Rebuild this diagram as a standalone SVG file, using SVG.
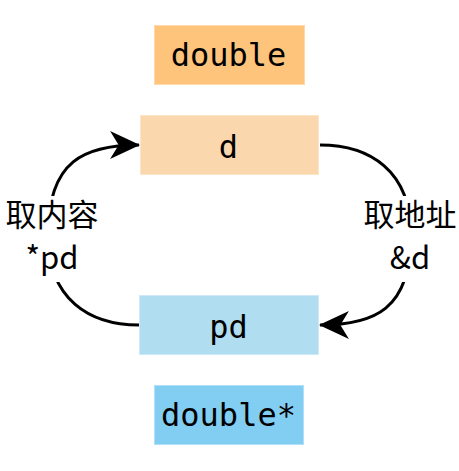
<svg xmlns="http://www.w3.org/2000/svg" width="459" height="471" viewBox="0 0 459 471">
<style>
.mono{font-family:"DejaVu Sans Mono",monospace;font-size:32px;fill:#000;text-anchor:middle}
.lbl{font-family:"Noto Sans CJK SC","Noto Sans",sans-serif;font-size:31px;fill:#000;text-anchor:middle}
.edge{fill:none;stroke:#000;stroke-width:3}
</style>
<defs>
<marker id="arr" markerUnits="userSpaceOnUse" markerWidth="30" markerHeight="30" viewBox="0 0 28 28" refX="27" refY="14" orient="auto">
<path d="M0,1 L28,14 L0,27 L8,14 Z" fill="#000"/>
</marker>
</defs>
<rect width="459" height="471" fill="#fff"/>
<g id="node-double">
<rect x="154.5" y="25.5" width="150" height="59" fill="#ffc47b" stroke="#ffd9a8" stroke-width="1"/>
<text class="mono" x="228.5" y="66">double</text>
</g>
<g id="node-d">
<rect x="140.5" y="115.5" width="178" height="59" fill="#fad7ac" stroke="#fde6c8" stroke-width="1"/>
<text class="mono" x="228.5" y="158">d</text>
</g>
<g id="node-pd">
<rect x="139.5" y="295.5" width="179" height="59" fill="#b1ddf0" stroke="#cfeaf7" stroke-width="1"/>
<text class="mono" x="228.5" y="338">pd</text>
</g>
<g id="node-doubleptr">
<rect x="154.5" y="385.5" width="149" height="59" fill="#82cdf2" stroke="#b0e0f8" stroke-width="1"/>
<text class="mono" x="228.5" y="426">double*</text>
</g>
<g id="connectors">
<path class="edge" d="M139,325 C90,325 48,300 48,235 C48,160 85,145 139,145" marker-end="url(#arr)"/>
<path class="edge" d="M320,145 C369,145 411,170 411,235 C411,310 374,325 320,325" marker-end="url(#arr)"/>
<rect x="0" y="196" width="106" height="86" fill="#fff"/>
<rect x="360" y="196" width="99" height="86" fill="#fff"/>
<text class="lbl" x="52" y="226">取内容</text>
<text class="lbl" x="52" y="269">*pd</text>
<text class="lbl" x="410" y="226">取地址</text>
<text class="lbl" x="410" y="269">&amp;d</text>
</g>
</svg>
